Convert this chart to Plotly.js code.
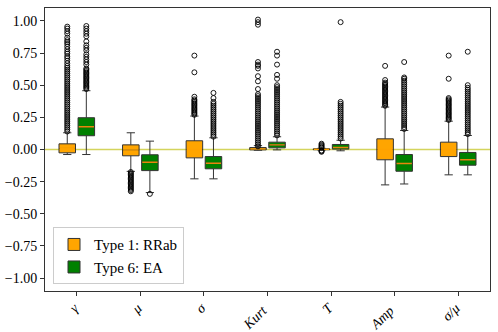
<!DOCTYPE html>
<html>
<head>
<meta charset="utf-8">
<script src="https://cdn.plot.ly/plotly-3.0.1.min.js"></script>
<style>
  body { margin: 0; background: #fff; }
  #boxChart { width: 498px; height: 332px; }
</style>
</head>
<body>
<div id="boxChart"></div>
<script>
// feature names on the x axis
const features = ['γ', 'μ', 'σ', 'Kurt', 'T', 'Amp', 'σ/μ'];
// trailing no-break spaces keep the rotated labels near the centre of their ticks
const tickLabels = ['<i>γ</i>\u00a0', '<i>μ</i>\u00a0', '<i>σ</i>\u00a0', '<i>Kurt</i>\u00a0\u00a0', '<i>T</i>\u00a0', '<i>Amp</i>\u00a0\u00a0', '<i>σ/μ</i>\u00a0'];

// Type 1: RRab box stats
const rrabQ1     = [-0.026, -0.049, -0.065, -0.003, -0.002, -0.080, -0.055];
const rrabMedian = [0.008, -0.005, 0.000, 0.005, 0.001, 0.000, 0.000];
const rrabQ3     = [0.044, 0.036, 0.068, 0.015, 0.005, 0.083, 0.057];
const rrabLower  = [-0.039, -0.170, -0.228, -0.006, -0.004, -0.275, -0.197];
const rrabUpper  = [0.130, 0.130, 0.260, 0.030, 0.009, 0.330, 0.220];

// Type 6: EA box stats
const eaQ1     = [0.107, -0.164, -0.150, 0.013, 0.003, -0.169, -0.122];
const eaMedian = [0.177, -0.099, -0.107, 0.036, 0.016, -0.109, -0.080];
const eaQ3     = [0.247, -0.041, -0.055, 0.057, 0.039, -0.039, -0.023];
const eaLower  = [-0.039, -0.335, -0.228, -0.003, -0.010, -0.268, -0.197];
const eaUpper  = [0.457, 0.065, 0.091, 0.099, 0.072, 0.148, 0.109];

// outliers (fliers), one list per feature
const rrabOutliers = [
  [0.14, 0.155, 0.17, 0.185, 0.2, 0.215, 0.23, 0.245, 0.26, 0.275, 0.29, 0.305, 0.32, 0.335, 0.35, 0.365, 0.38, 0.395, 0.41, 0.425, 0.44, 0.455, 0.47, 0.485, 0.5, 0.515, 0.53, 0.545, 0.56, 0.575, 0.59, 0.605, 0.62, 0.635, 0.65, 0.67, 0.69, 0.71, 0.725, 0.745, 0.76, 0.78, 0.8, 0.82, 0.835, 0.85, 0.87, 0.9, 0.92, 0.94, 0.955],
  [-0.175, -0.185, -0.195, -0.205, -0.215, -0.225, -0.235, -0.245, -0.255, -0.265, -0.275, -0.285, -0.295, -0.305, -0.315, -0.325],
  [0.27, 0.28, 0.29, 0.3, 0.31, 0.32, 0.33, 0.34, 0.35, 0.36, 0.37, 0.38, 0.39, 0.41, 0.6, 0.73],
  [0.025, 0.04, 0.055, 0.07, 0.085, 0.1, 0.115, 0.13, 0.145, 0.16, 0.175, 0.19, 0.205, 0.22, 0.235, 0.25, 0.265, 0.28, 0.295, 0.31, 0.325, 0.34, 0.355, 0.37, 0.385, 0.4, 0.415, 0.43, 0.47, 0.53, 0.57, 0.63, 0.65, 0.66, 0.68, 0.97, 0.99, 1.01],
  [-0.018, -0.013, -0.008, 0.013, 0.02, 0.028, 0.036, 0.045],
  [0.34, 0.35, 0.36, 0.37, 0.38, 0.39, 0.4, 0.41, 0.42, 0.43, 0.44, 0.45, 0.46, 0.47, 0.48, 0.49, 0.5, 0.51, 0.52, 0.54, 0.65],
  [0.23, 0.24, 0.25, 0.26, 0.27, 0.28, 0.29, 0.3, 0.31, 0.32, 0.33, 0.34, 0.35, 0.36, 0.37, 0.38, 0.39, 0.40, 0.55, 0.73]
];
const eaOutliers = [
  [0.47, 0.48, 0.49, 0.5, 0.51, 0.52, 0.53, 0.54, 0.55, 0.56, 0.57, 0.58, 0.59, 0.6, 0.61, 0.62, 0.63, 0.66, 0.68, 0.7, 0.72, 0.74, 0.77, 0.79, 0.81, 0.84, 0.88, 0.9, 0.92, 0.94, 0.96],
  [-0.345],
  [0.1, 0.115, 0.13, 0.145, 0.16, 0.175, 0.19, 0.205, 0.22, 0.235, 0.25, 0.265, 0.28, 0.295, 0.31, 0.325, 0.34, 0.355, 0.37, 0.4, 0.44],
  [0.11, 0.125, 0.14, 0.155, 0.17, 0.185, 0.2, 0.215, 0.23, 0.245, 0.26, 0.275, 0.29, 0.305, 0.32, 0.335, 0.35, 0.365, 0.38, 0.395, 0.41, 0.425, 0.44, 0.455, 0.47, 0.485, 0.5, 0.55, 0.58, 0.66, 0.73, 0.76],
  [0.085, 0.1, 0.115, 0.13, 0.145, 0.16, 0.175, 0.19, 0.205, 0.22, 0.235, 0.25, 0.265, 0.28, 0.295, 0.31, 0.325, 0.34, 0.355, 0.37, 0.99],
  [0.16, 0.175, 0.19, 0.205, 0.22, 0.235, 0.25, 0.265, 0.28, 0.295, 0.31, 0.325, 0.34, 0.355, 0.37, 0.385, 0.4, 0.415, 0.43, 0.445, 0.46, 0.475, 0.49, 0.505, 0.52, 0.535, 0.55, 0.56, 0.68],
  [0.12, 0.135, 0.15, 0.165, 0.18, 0.195, 0.21, 0.225, 0.24, 0.255, 0.27, 0.285, 0.3, 0.315, 0.33, 0.345, 0.36, 0.375, 0.39, 0.405, 0.42, 0.435, 0.45, 0.465, 0.48, 0.5, 0.76]
];

const OFFSET = 0.15;
const BOX_W = 0.26;
const FONT = 'Liberation Serif, DejaVu Serif, serif';
const edge = '#333333';

let catPos = features.map((f, i) => i + 1);
let rrabX = catPos.map(p => p - OFFSET);
let eaX = catPos.map(p => p + OFFSET);

function boxTrace(name, x, q1, med, q3, lo, hi, fill) {
    return {
        type: 'box',
        name: name,
        x: x,
        q1: q1,
        median: med,
        q3: q3,
        lowerfence: lo,
        upperfence: hi,
        width: BOX_W,
        whiskerwidth: 0.5,
        fillcolor: fill,
        line: { color: edge, width: 1 },
        boxpoints: false,
        hoverinfo: 'skip'
    };
}

// a zero-height box drawn over the median so it takes its own colour
function medianTrace(x, med, color) {
    return {
        type: 'box',
        x: x,
        q1: med, median: med, q3: med,
        lowerfence: med, upperfence: med,
        width: BOX_W - 0.02,
        whiskerwidth: 0,
        fillcolor: 'rgba(0,0,0,0)',
        line: { color: color, width: 1.4 },
        showlegend: false,
        hoverinfo: 'skip'
    };
}

function outlierTraces(xs, lists) {
    let traces = [];
    for (var i = 0; i < lists.length; i++) {
        traces.push({
            type: 'scatter',
            mode: 'markers',
            x: lists[i].map(() => xs[i]),
            y: lists[i],
            showlegend: false,
            hoverinfo: 'skip',
            marker: {
                symbol: 'circle-open',
                size: 5,
                color: '#000000',
                line: { width: 0.9, color: '#000000' }
            }
        });
    }
    return traces;
}

var data = [
    boxTrace('Type 1: RRab', rrabX, rrabQ1, rrabMedian, rrabQ3, rrabLower, rrabUpper, '#ffa500'),
    boxTrace('Type 6: EA', eaX, eaQ1, eaMedian, eaQ3, eaLower, eaUpper, '#008000'),
    medianTrace(rrabX, rrabMedian, '#ffa200'),
    medianTrace(eaX, eaMedian, '#e8860c')
].concat(outlierTraces(rrabX, rrabOutliers), outlierTraces(eaX, eaOutliers));

var layout = {
    width: 498,
    height: 332,
    margin: { l: 45, r: 8, t: 8, b: 41 },
    paper_bgcolor: '#ffffff',
    plot_bgcolor: '#ffffff',
    font: { family: FONT, size: 14, color: '#000000' },
    boxmode: 'overlay',
    showlegend: true,
    xaxis: {
        range: [0.5, 7.5],
        tickvals: catPos,
        ticktext: tickLabels,
        tickangle: -45,
        ticks: 'outside',
        ticklen: 4,
        tickcolor: edge,
        ticklabelstandoff: -4,
        showgrid: false,
        zeroline: false,
        showline: true,
        mirror: true,
        linecolor: edge,
        tickfont: { family: FONT, size: 14 }
    },
    yaxis: {
        range: [-1.1, 1.1],
        tickvals: [-1, -0.75, -0.5, -0.25, 0, 0.25, 0.5, 0.75, 1],
        tickformat: '.2f',
        ticks: 'outside',
        ticklen: 4,
        tickcolor: edge,
        showgrid: false,
        zeroline: false,
        showline: true,
        mirror: true,
        linecolor: edge,
        tickfont: { family: FONT, size: 14 }
    },
    shapes: [{
        type: 'line',
        xref: 'paper', x0: 0, x1: 1,
        yref: 'y', y0: 0, y1: 0,
        layer: 'below',
        line: { color: '#d4d45c', width: 1.5 }
    }],
    legend: {
        x: 0.018,
        y: 0.024,
        xanchor: 'left',
        yanchor: 'bottom',
        bgcolor: 'rgba(255,255,255,0.8)',
        bordercolor: '#cccccc',
        borderwidth: 1,
        font: { family: FONT, size: 15 }
    }
};

Plotly.newPlot('boxChart', data, layout, { displayModeBar: false, staticPlot: true });
</script>
</body>
</html>
